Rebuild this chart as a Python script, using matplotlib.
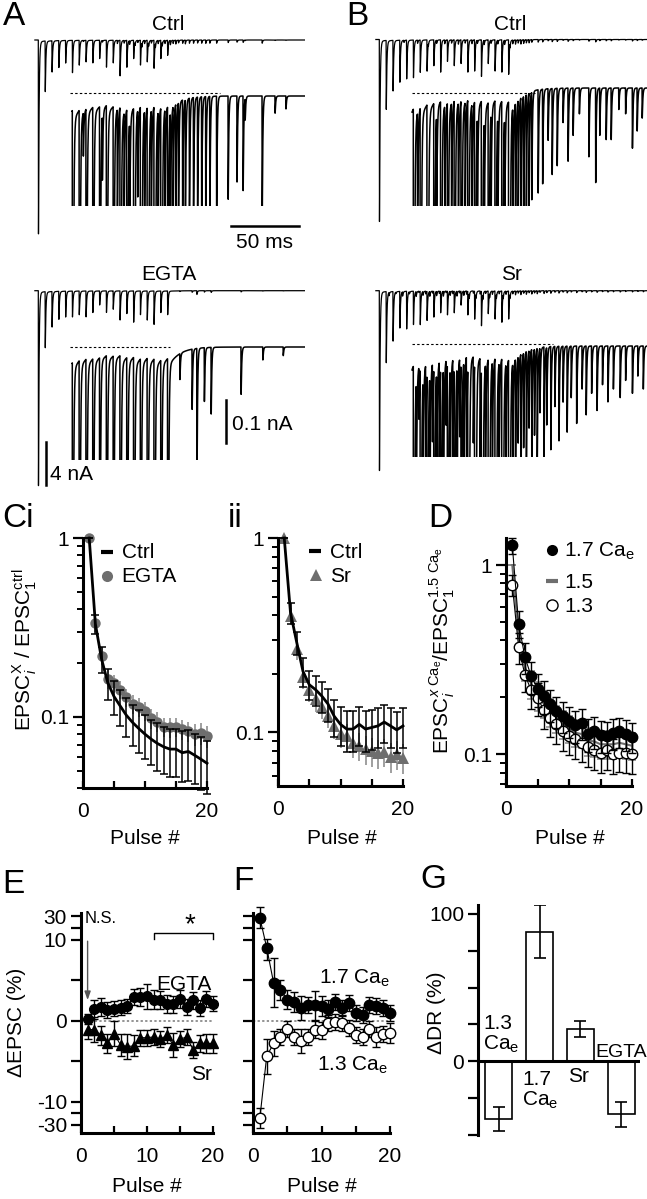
import numpy as np
import matplotlib
matplotlib.use('Agg')
import matplotlib.pyplot as plt
from matplotlib.lines import Line2D
from matplotlib.ticker import NullFormatter, LogLocator

plt.rcParams['font.family'] = ['Liberation Sans', 'DejaVu Sans']
plt.rcParams['mathtext.fontset'] = 'custom'
plt.rcParams['mathtext.rm'] = 'Liberation Sans'
plt.rcParams['mathtext.it'] = 'Liberation Sans:italic'
plt.rcParams['mathtext.bf'] = 'Liberation Sans:bold'
plt.rcParams['axes.unicode_minus'] = False

# ------------------------------------------------------------------ data
# stimulus train (ms) and EPSC peak amplitudes (nA) of the example traces
pulse_ms = [0, 5, 10, 15, 20, 25, 30, 35, 40, 45, 50, 55, 60, 65, 70, 75, 80, 85, 90, 95]
amp_ctrl_A = [18.0, 4.7, 2.9, 2.5, 2.1, 3.0, 2.3, 2.0, 2.1, 1.7, 2.5, 2.1, 3.3, 2.5, 1.7, 2.3, 2.0, 2.6, 1.7, 1.4]
amp_ctrl_B = [16.9, 6.4, 4.7, 3.9, 3.6, 3.5, 3.0, 2.9, 2.4, 3.0, 2.0, 2.4, 2.2, 3.0, 2.9, 3.4, 2.2, 2.9, 3.0, 3.2]
amp_egta = [18.1, 5.2, 3.3, 2.6, 2.4, 2.4, 2.2, 2.4, 2.0, 1.3, 2.0, 1.7, 2.7, 2.1, 2.9, 2.2, 2.7, 3.1, 2.0, 2.2]
amp_sr = [16.7, 6.6, 4.6, 3.4, 3.5, 3.1, 3.1, 2.7, 2.4, 2.0, 2.2, 2.0, 1.3, 2.2, 2.6, 3.2, 2.1, 2.6, 2.9, 2.6]

# asynchronous release events: time (ms) and amplitude (nA)
async_t_ctrlA = [33, 47, 58, 63, 67, 71, 73, 76, 78, 81, 83, 86, 88, 91, 93, 97, 99, 101, 103, 106,
                 108, 111, 114, 117, 120, 123, 126, 131, 139.5, 146, 150.5, 152, 164.5, 174, 182]
async_a_ctrlA = [0.10, 0.15, 0.30, 0.25, 0.35, 0.30, 0.20, 0.40, 0.30, 0.35, 0.25, 0.40, 0.30, 0.35, 0.30, 0.40, 0.30, 0.35, 0.25, 0.30,
                 0.35, 0.30, 0.30, 0.28, 0.30, 0.32, 0.30, 0.30, 0.24, 0.20, 0.22, 0.05, 0.30, 0.04, 0.03]
async_t_ctrlB = [18, 28, 36, 42, 48, 53, 58, 63, 68, 72, 77, 82, 87, 92, 96, 98, 100, 102, 104, 106,
                 108, 110, 112, 116.7, 120, 124, 127, 130.7, 135, 138.7, 142.4, 147, 154, 159, 162, 166.7, 170.4, 176, 181, 186,
                 189.5, 193.2]
async_a_ctrlB = [0.20, 0.30, 0.25, 0.30, 0.35, 0.30, 0.40, 0.30, 0.35, 0.30, 0.40, 0.30, 0.35, 0.40, 0.40, 0.35, 0.40, 0.30, 0.40, 0.35,
                 0.30, 0.30, 0.25, 0.24, 0.22, 0.12, 0.20, 0.18, 0.08, 0.17, 0.11, 0.06, 0.16, 0.22, 0.11, 0.12, 0.12, 0.05, 0.06, 0.14,
                 0.10, 0.07]
async_t_egta = [104, 113, 116.5, 122, 127, 149, 165, 180]
async_a_egta = [0.06, 0.14, 0.35, 0.125, 0.155, 0.11, 0.03, 0.02]
async_t_sr = [7, 12, 17, 22, 27, 29, 32, 34, 37, 39, 42, 44, 47, 49, 52, 54, 57, 59, 62, 64,
              66, 69, 71, 74, 76, 78, 81, 83, 86, 88, 91, 93, 96, 98, 100, 102, 104, 106, 108, 110,
              112, 114, 116, 118, 121, 123, 126, 129, 132, 135, 138, 141, 145, 149, 152, 156, 160, 164, 168, 172,
              177, 181, 186, 190, 194]
async_a_sr = [0.30, 0.15, 0.40, 0.20, 0.45, 0.12, 0.35, 0.25, 0.45, 0.18, 0.40, 0.22, 0.45, 0.15, 0.38, 0.25, 0.45, 0.18, 0.40, 0.30,
              0.45, 0.20, 0.40, 0.28, 0.45, 0.22, 0.40, 0.30, 0.42, 0.25, 0.40, 0.30, 0.40, 0.25, 0.35, 0.20, 0.35, 0.22, 0.32, 0.18,
              0.30, 0.20, 0.28, 0.15, 0.26, 0.18, 0.24, 0.14, 0.22, 0.13, 0.20, 0.12, 0.18, 0.10, 0.16, 0.11, 0.15, 0.09, 0.13, 0.10,
              0.12, 0.08, 0.11, 0.07, 0.10]

pulse_num = [1, 2, 3, 4, 5, 6, 7, 8, 9, 10, 11, 12, 13, 14, 15, 16, 17, 18, 19, 20]

# Ci
ci_ctrl = [1.0, 0.33, 0.21, 0.155, 0.13, 0.115, 0.102, 0.093, 0.086, 0.08, 0.075, 0.071, 0.068, 0.066, 0.066, 0.063, 0.064, 0.061, 0.058, 0.055]
ci_ctrl_err = [0.0, 0.04, 0.035, 0.03, 0.028, 0.026, 0.025, 0.024, 0.023, 0.022, 0.021, 0.021, 0.02, 0.02, 0.02, 0.02, 0.02, 0.019, 0.019, 0.018]
ci_egta = [1.0, 0.335, 0.22, 0.163, 0.154, 0.142, 0.129, 0.118, 0.114, 0.108, 0.098, 0.094, 0.088, 0.0875, 0.088, 0.085, 0.083, 0.080, 0.081, 0.078]
ci_egta_err = [0.0, 0.035, 0.025, 0.02, 0.018, 0.016, 0.015, 0.014, 0.014, 0.013, 0.012, 0.012, 0.011, 0.011, 0.011, 0.011, 0.011, 0.011, 0.011, 0.011]
# Cii
cii_ctrl = [1.0, 0.413, 0.29, 0.206, 0.176, 0.166, 0.154, 0.14, 0.121, 0.11, 0.104, 0.104, 0.11, 0.104, 0.106, 0.108, 0.113, 0.108, 0.103, 0.108]
cii_ctrl_err = [0.0, 0.05, 0.04, 0.035, 0.03, 0.03, 0.028, 0.027, 0.026, 0.025, 0.025, 0.025, 0.025, 0.025, 0.025, 0.025, 0.025, 0.025, 0.025, 0.025]
cii_sr = [1.0, 0.395, 0.267, 0.192, 0.165, 0.148, 0.135, 0.122, 0.108, 0.098, 0.096, 0.088, 0.085, 0.082, 0.08, 0.078, 0.079, 0.075, 0.077, 0.074]
cii_sr_err = [0.0, 0.04, 0.03, 0.025, 0.022, 0.02, 0.018, 0.017, 0.016, 0.015, 0.015, 0.014, 0.014, 0.014, 0.014, 0.013, 0.013, 0.013, 0.013, 0.013]
# D
d_17 = [1.27, 0.49, 0.327, 0.258, 0.222, 0.203, 0.184, 0.169, 0.159, 0.15, 0.142, 0.146, 0.128, 0.132, 0.126, 0.125, 0.13, 0.132, 0.128, 0.124]
d_17_err = [0.12, 0.08, 0.06, 0.05, 0.045, 0.04, 0.035, 0.032, 0.03, 0.028, 0.027, 0.027, 0.025, 0.025, 0.024, 0.024, 0.024, 0.024, 0.024, 0.023]
d_15 = [1.0, 0.43, 0.29, 0.235, 0.205, 0.185, 0.168, 0.155, 0.145, 0.137, 0.13, 0.128, 0.118, 0.117, 0.113, 0.113, 0.113, 0.115, 0.113, 0.111]
d_15_err = [0.0, 0.06, 0.045, 0.04, 0.035, 0.03, 0.028, 0.026, 0.024, 0.022, 0.021, 0.02, 0.02, 0.02, 0.019, 0.019, 0.019, 0.019, 0.018, 0.018]
d_13 = [0.785, 0.369, 0.263, 0.218, 0.199, 0.171, 0.156, 0.144, 0.132, 0.125, 0.12, 0.115, 0.109, 0.105, 0.102, 0.105, 0.1, 0.102, 0.101, 0.1]
d_13_err = [0.1, 0.07, 0.05, 0.045, 0.04, 0.035, 0.032, 0.03, 0.028, 0.026, 0.025, 0.024, 0.023, 0.022, 0.022, 0.022, 0.021, 0.021, 0.021, 0.021]
# E
e_egta = [0.2, 1.4, 1.7, 1.3, 1.5, 1.6, 1.8, 2.9, 2.9, 3.0, 2.6, 2.5, 2.1, 2.0, 2.7, 1.7, 2.5, 1.6, 2.7, 2.1]
e_egta_err = [0.6, 1.2, 1.1, 1.0, 0.9, 0.9, 0.9, 1.0, 1.1, 1.5, 1.2, 1.1, 1.1, 1.0, 1.1, 1.0, 1.0, 1.0, 1.0, 0.9]
e_sr = [-1.1, -1.1, -1.8, -2.8, -1.6, -3.0, -3.2, -3.1, -2.1, -2.1, -2.0, -2.3, -1.8, -3.0, -2.3, -2.0, -3.6, -2.8, -2.8, -2.8]
e_sr_err = [1.2, 1.5, 1.2, 1.2, 1.5, 1.3, 1.5, 1.3, 1.0, 1.0, 1.0, 1.0, 1.0, 1.5, 1.0, 1.0, 1.0, 1.0, 1.2, 1.2]
# F
f_17 = [29, 9.0, 4.7, 3.8, 2.6, 2.3, 1.6, 1.9, 1.9, 1.8, 1.5, 2.3, 1.6, 2.2, 0.9, 0.7, 1.9, 1.8, 1.6, 0.9]
f_17_err = [9, 1.5, 3.0, 1.2, 1.2, 1.2, 1.5, 1.0, 1.8, 1.2, 1.0, 1.0, 1.0, 1.0, 1.0, 1.0, 1.0, 1.0, 1.0, 1.0]
f_13 = [-24, -4.4, -2.8, -2.0, -1.0, -2.0, -2.5, -2.0, -1.1, -1.2, -0.3, -0.2, -0.3, -0.9, -1.8, -2.0, -1.0, -2.0, -1.6, -1.5]
f_13_err = [9, 2.2, 1.5, 1.0, 1.0, 1.0, 1.5, 1.0, 1.0, 1.0, 1.0, 1.0, 1.0, 1.0, 1.0, 1.0, 1.0, 1.2, 1.0, 1.2]
# G
g_labels = ['1.3\nCa$_{\\mathrm{e}}$', '1.7\nCa$_{\\mathrm{e}}$', 'Sr', 'EGTA']
g_values = [-39, 88, 22, -36]
g_err = [8, 18, 5.5, 8.5]

# ------------------------------------------------------------------ layout helpers
W, H, DPI = 647, 1199, 100
FS = 15
GRAY = '#6e6e6e'
EGRAY = '#858585'

fig = plt.figure(figsize=(W / DPI, H / DPI), dpi=DPI, facecolor='white')


def add_ax(x0, y0, x1, y1):
    a = fig.add_axes([x0 / W, 1 - y1 / H, (x1 - x0) / W, (y1 - y0) / H])
    a.patch.set_visible(False)
    return a


def txt(x, yc, s, ha='left', fs=FS, **kw):
    yb = yc + 0.36 * fs * DPI / 72.0
    return fig.text(x / W, 1 - yb / H, s, ha=ha, va='baseline', fontsize=fs, **kw)


def letter(x, yb, s):
    fig.text(x / W, 1 - yb / H, s, ha='left', va='baseline', fontsize=24)


def fig_marker(x, y, **kw):
    fig.add_artist(Line2D([x / W], [1 - y / H], transform=fig.transFigure, ls='none', **kw))


def noclip(cont):
    for ch in cont.get_children():
        ch.set_clip_on(False)


# ------------------------------------------------------------------ traces
PX_MS = 1.36
PX_NA = 10.75
PX_NA_IN = 430.0
t = np.arange(-2.5, 198.0, 0.01)


def kernel(s, slow):
    out = np.zeros_like(s)
    m = s > 0
    x = s[m]
    out[m] = (1 - np.exp(-x / 0.07)) * ((1 - slow) * np.exp(-x / 0.4) + slow * np.exp(-x / 8.0))
    return out


_g = np.linspace(0, 3, 6001)
_norm = kernel(_g, 0.0).max()


def build_trace(amps, at, aa):
    y = np.zeros_like(t)
    for tk, a in zip(pulse_ms, amps):
        y -= a * kernel(t - tk, 0.006) / _norm
    for tk, a in zip(at, aa):
        y -= a * kernel(t - tk, 0.0) / _norm
    return y


def trace_panel(y, x_first, base_y, x_end, ins_x0, zero_y, dash_y, dash_x0, dash_x1):
    ax = add_ax(x_first - 5, base_y - 10, x_end, base_y + 205)
    ax.set_xlim(-5 / PX_MS, (x_end - x_first) / PX_MS)
    ax.set_ylim(-205 / PX_NA, 10 / PX_NA)
    ax.axis('off')
    tend = (x_end - x_first) / PX_MS
    m = t <= tend
    ax.plot(t[m], y[m], color='k', lw=0.9)
    axi = add_ax(ins_x0 - 3, dash_y - 40, x_end, dash_y + 113)
    axi.set_xlim(-3 / PX_MS + (ins_x0 - x_first) / PX_MS, tend)
    axi.set_ylim(-(dash_y + 113 - zero_y) / PX_NA_IN, (zero_y - dash_y + 40) / PX_NA_IN)
    axi.axis('off')
    ts = (ins_x0 - x_first) / PX_MS
    mi = (t >= ts) & m
    axi.plot(t[mi], y[mi], color='k', lw=1.1)
    lev = (zero_y - dash_y) / PX_NA_IN
    axi.plot([(dash_x0 - x_first) / PX_MS, (dash_x1 - x_first) / PX_MS], [lev, lev],
             color='k', lw=0.8, ls=(0, (2.2, 2.0)))


y_ctrlA = build_trace(amp_ctrl_A, async_t_ctrlA, async_a_ctrlA)
y_ctrlB = build_trace(amp_ctrl_B, async_t_ctrlB, async_a_ctrlB)
y_egta = build_trace(amp_egta, async_t_egta, async_a_egta)
y_sr = build_trace(amp_sr, async_t_sr, async_a_sr)

trace_panel(y_ctrlA, 38.3, 40, 305, 72, 96, 93, 70, 220)
trace_panel(y_ctrlB, 379.3, 39.5, 647, 412, 88, 93.3, 412, 535)
trace_panel(y_egta, 38.3, 290.7, 305, 72, 347, 346.7, 70, 170)
trace_panel(y_sr, 379.3, 290.7, 647, 412, 346, 344, 412, 553)

txt(168, 23, 'Ctrl', ha='center')
txt(510, 23, 'Ctrl', ha='center')
txt(169, 272, 'EGTA', ha='center')
txt(511, 272, 'Sr', ha='center')

# scale bars
fig.add_artist(Line2D([231 / W, 299 / W], [1 - 226 / H, 1 - 226 / H], color='k', lw=1.8))
txt(265, 240, '50 ms', ha='center')
fig.add_artist(Line2D([226 / W, 226 / W], [1 - 400 / H, 1 - 443 / H], color='k', lw=1.8))
txt(232, 422, '0.1 nA')
fig.add_artist(Line2D([46 / W, 46 / W], [1 - 442 / H, 1 - 485 / H], color='k', lw=1.8))
txt(50, 473, '4 nA')

letter(3, 25, 'A')
letter(346, 25, 'B')
letter(2, 527, 'Ci')
letter(228, 527, 'ii')
letter(428, 527, 'D')
letter(2, 893, 'E')
letter(233, 890, 'F')
letter(420, 888, 'G')


# ------------------------------------------------------------------ style
def style(ax, xin=True):
    for s in ['top', 'right']:
        ax.spines[s].set_visible(False)
    for s in ['left', 'bottom']:
        ax.spines[s].set_linewidth(2.2)
        ax.spines[s].set_capstyle('projecting')
    ax.tick_params(axis='y', which='major', direction='out', length=7, width=1.6, labelsize=FS, pad=3)
    ax.tick_params(axis='y', which='minor', direction='out', length=4.5, width=1.4)
    ax.tick_params(axis='x', which='major', direction='in' if xin else 'out', length=5, width=1.6,
                   labelsize=FS, pad=10)


def log_axes(ax, ylo, yhi):
    ax.set_yscale('log')
    ax.set_ylim(ylo, yhi)
    ax.set_xlim(0, 20)
    ax.set_yticks([0.1, 1])
    ax.set_yticklabels(['0.1', '1'])
    ax.yaxis.set_minor_locator(LogLocator(base=10, subs=np.arange(2, 10)))
    ax.yaxis.set_minor_formatter(NullFormatter())
    ax.set_xticks([0, 5, 10, 15, 20])
    ax.set_xticklabels(['0', '', '', '', '20'])
    style(ax)


# Ci
ax = add_ax(83, 538, 207, 788)
log_axes(ax, 0.04, 1.0)
c = ax.errorbar(pulse_num, ci_egta, yerr=ci_egta_err, fmt='o', color=GRAY, ms=7.5, mew=0,
                ecolor=EGRAY, elinewidth=1.1, capsize=3, capthick=1.1, zorder=2)
noclip(c)
c = ax.errorbar(pulse_num, ci_ctrl, yerr=ci_ctrl_err, fmt='-', color='k', lw=2, ecolor='k',
                elinewidth=1.1, capsize=3, capthick=1.1, zorder=3)
noclip(c)
txt(145, 836, 'Pulse #', ha='center')
fig.text(25 / W, 1 - 650 / H, r'EPSC$_{i}^{\mathrm{X}}$ / EPSC$_{1}^{\mathrm{ctrl}}$', rotation=90,
         ha='center', va='center', fontsize=FS)
fig_marker(107, 552, marker='_', ms=9, mew=3, color='k')
txt(122, 551, 'Ctrl')
fig_marker(107, 576, marker='o', ms=8, mew=0, color=GRAY)
txt(121, 575, 'EGTA')

# Cii
ax = add_ax(278, 538, 403, 786)
log_axes(ax, 0.053, 1.0)
c = ax.errorbar(pulse_num, cii_sr, yerr=cii_sr_err, fmt='^', color=GRAY, ms=8, mew=0,
                ecolor=EGRAY, elinewidth=1.1, capsize=3, capthick=1.1, zorder=2)
noclip(c)
c = ax.errorbar(pulse_num, cii_ctrl, yerr=cii_ctrl_err, fmt='-', color='k', lw=2, ecolor='k',
                elinewidth=1.1, capsize=3, capthick=1.1, zorder=3)
noclip(c)
txt(342, 836, 'Pulse #', ha='center')
fig_marker(315, 551, marker='_', ms=9, mew=3, color='k')
txt(330, 551, 'Ctrl')
fig_marker(316, 575, marker='^', ms=8, mew=0, color=GRAY)
txt(330, 575, 'Sr')

# D
ax = add_ax(506, 538, 632, 786)
log_axes(ax, 0.068, 1.39)
c = ax.errorbar(pulse_num, d_15, yerr=d_15_err, fmt='-', color=GRAY, lw=1.5, ecolor=EGRAY,
                elinewidth=1.1, capsize=3, capthick=1.1, zorder=2)
noclip(c)
c = ax.errorbar(pulse_num, d_13, yerr=d_13_err, fmt='-o', color='k', lw=0.8, mfc='white', mec='k',
                mew=1.0, ms=7.5, ecolor='k', elinewidth=1.0, capsize=3, capthick=1.0, zorder=3)
noclip(c)
c = ax.errorbar(pulse_num, d_17, yerr=d_17_err, fmt='-o', color='k', lw=0.8, ms=7.5,
                ecolor='k', elinewidth=1.0, capsize=3, capthick=1.0, zorder=4)
noclip(c)
txt(570, 836, 'Pulse #', ha='center')
fig.text(442 / W, 1 - 650 / H, r'EPSC$_{i}^{x\ \mathrm{Ca_e}}$/EPSC$_{1}^{1.5\ \mathrm{Ca_e}}$',
         rotation=90, ha='center', va='center', fontsize=FS)
fig_marker(552, 550, marker='o', ms=8, mew=0, color='k')
txt(564, 549, r'1.7 Ca$_{\mathrm{e}}$')
fig_marker(552, 581, marker='_', ms=9, mew=3, color=GRAY)
txt(564, 580, '1.5')
fig_marker(552, 605, marker='o', ms=8, mew=1, mfc='white', mec='k')
txt(564, 604, '1.3')

# ------------------------------------------------------------------ E, F (split linear scale)
K = 1.15 / 8.07


def fwd(v):
    v = np.asarray(v, dtype=float)
    a = np.abs(v)
    return np.where(a <= 10, v, np.sign(v) * (10 + (a - 10) * K))


def inv(u):
    u = np.asarray(u, dtype=float)
    a = np.abs(u)
    return np.where(a <= 10, u, np.sign(u) * (10 + (a - 10) / K))


def split_axes(ax, labels=True):
    ax.set_yscale('function', functions=(fwd, inv))
    ax.set_ylim(-37, 33)
    ax.set_xlim(0, 20)
    ax.set_yticks([-30, -20, -10, -5, 0, 5, 10, 20, 30])
    if labels:
        ax.set_yticklabels(['-30', '', '-10', '', '0', '', '10', '', '30'])
    else:
        ax.set_yticklabels([])
    ax.yaxis.set_minor_locator(matplotlib.ticker.NullLocator())
    ax.set_xticks([0, 5, 10, 15, 20])
    ax.set_xticklabels(['0', '', '10', '', '20'])
    style(ax)
    ax.plot([0, 20], [0, 0], color='#777777', lw=1.1, ls=(0, (1.5, 1.5)), zorder=1)


# E
ax = add_ax(81, 913, 213, 1133)
split_axes(ax)
c = ax.errorbar(pulse_num, e_egta, yerr=e_egta_err, fmt='-o', color='k', lw=0.8, ms=7,
                ecolor='k', elinewidth=1.0, capsize=3, capthick=1.0, zorder=3)
noclip(c)
c = ax.errorbar(pulse_num, e_sr, yerr=e_sr_err, fmt='-^', color='k', lw=0.8, ms=7.5,
                ecolor='k', elinewidth=1.0, capsize=3, capthick=1.0, zorder=3)
noclip(c)
ax.annotate('', xy=(1, 2.2), xytext=(1, 11.0),
            arrowprops=dict(arrowstyle='-|>,head_length=0.5,head_width=0.18', color='#555555', lw=1.0))
ax.plot([11, 11, 20, 20], [10.2, 16, 16, 10.2], color='k', lw=1.0, clip_on=False)
txt(85, 917, 'N.S.', fs=12)
txt(190, 922, '*', ha='center', fs=20)
txt(212, 983, 'EGTA', ha='right')
txt(212, 1072, 'Sr', ha='right')
txt(147, 1185, 'Pulse #', ha='center')
fig.text(17 / W, 1 - 1022 / H, '\u0394EPSC (%)', rotation=90, ha='center', va='center', fontsize=FS)

# F
ax = add_ax(253, 913, 390, 1133)
split_axes(ax, labels=False)
c = ax.errorbar(pulse_num, f_13, yerr=f_13_err, fmt='-o', color='k', lw=0.8, mfc='white', mec='k',
                mew=1.0, ms=7.5, ecolor='k', elinewidth=1.0, capsize=3, capthick=1.0, zorder=3)
noclip(c)
c = ax.errorbar(pulse_num, f_17, yerr=f_17_err, fmt='-o', color='k', lw=0.8, ms=7.5,
                ecolor='k', elinewidth=1.0, capsize=3, capthick=1.0, zorder=4)
noclip(c)
txt(390, 976, r'1.7 Ca$_{\mathrm{e}}$', ha='right')
txt(388, 1063, r'1.3 Ca$_{\mathrm{e}}$', ha='right')
txt(322, 1185, 'Pulse #', ha='center')

# G
ax = add_ax(478, 905, 640, 1135)
xg = np.arange(len(g_values))
ax.bar(xg, g_values, width=0.67, color='white', edgecolor='k', linewidth=1.2,
       yerr=g_err, capsize=4, error_kw=dict(elinewidth=1.2, capthick=1.2, ecolor='k'), zorder=2)
ax.set_xlim(-0.51, 3.46)
ax.set_ylim(-50, 106)
ax.axhline(0, color='k', lw=2.2, zorder=3)
for s in ['top', 'right', 'bottom']:
    ax.spines[s].set_visible(False)
ax.spines['left'].set_linewidth(2.2)
ax.set_xticks([])
ax.set_yticks([-50, -25, 0, 25, 50, 75, 100])
ax.set_yticklabels(['', '', '0', '', '', '', '100'])
ax.tick_params(axis='y', direction='out', length=7, width=1.6, labelsize=FS, pad=3)
fig.text(483 / W, 1 - 1050 / H, g_labels[0], ha='left', va='baseline', fontsize=FS, linespacing=1.05)
fig.text(522 / W, 1 - 1106 / H, g_labels[1], ha='left', va='baseline', fontsize=FS, linespacing=1.05)
txt(568, 1075, g_labels[2])
txt(647, 1050, g_labels[3], ha='right', fs=14)
fig.text(437 / W, 1 - 1013 / H, '\u0394DR (%)', rotation=90, ha='center', va='center', fontsize=FS)

fig.savefig('out.png', dpi=DPI, facecolor='white')
